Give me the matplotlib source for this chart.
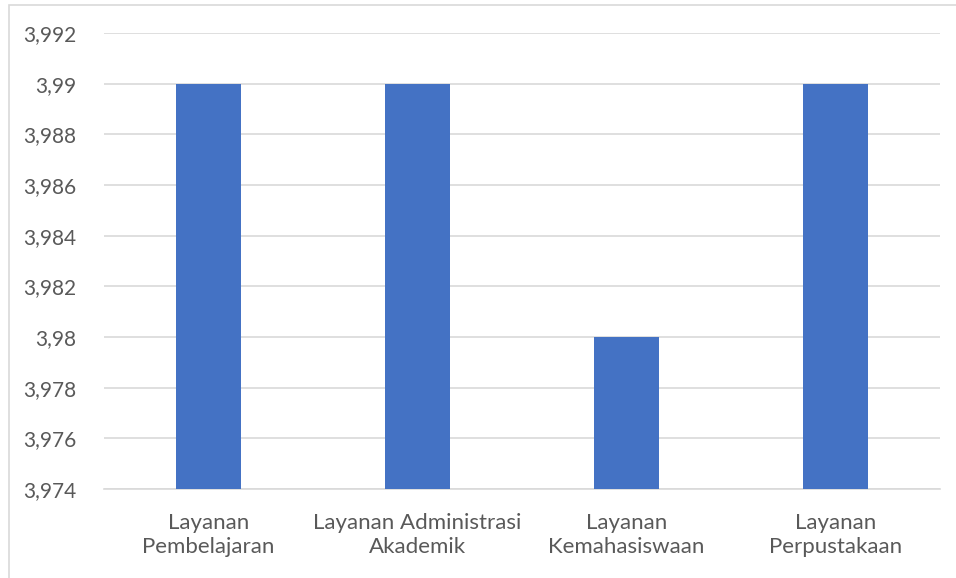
import matplotlib.pyplot as plt
from matplotlib.patches import Rectangle
from matplotlib.ticker import FuncFormatter, MultipleLocator

# data
categories = ['Layanan\nPembelajaran', 'Layanan Administrasi\nAkademik',
              'Layanan\nKemahasiswaan', 'Layanan\nPerpustakaan']
values = [3.99, 3.99, 3.98, 3.99]

plt.rcParams['font.family'] = ['Lato', 'DejaVu Sans']

fig = plt.figure(figsize=(9.56, 5.78), dpi=100)
ax = fig.add_axes([0.1088, 0.154, 0.8745, 0.789])

# chart border like the office chart frame
fig.patches.append(Rectangle((9 / 956, -0.01), 1.0, 1 - 5 / 578 + 0.01,
                             transform=fig.transFigure, fill=False,
                             edgecolor='#D9D9D9', linewidth=1.2))

x = range(len(categories))
ax.bar(x, values, width=0.31, color='#4472C4', zorder=3)

ax.set_ylim(3.974, 3.992)
ax.set_xlim(-0.5, len(categories) - 0.5)
ax.yaxis.set_major_locator(MultipleLocator(0.002))


def fmt(v, pos):
    s = f'{v:.3f}'.rstrip('0').rstrip('.')
    return s.replace('.', ',')


ax.yaxis.set_major_formatter(FuncFormatter(fmt))
ax.grid(axis='y', color='#D9D9D9', linewidth=1.2, zorder=0)

for side in ['top', 'right', 'left']:
    ax.spines[side].set_visible(False)
ax.spines['bottom'].set_color('#D9D9D9')
ax.spines['bottom'].set_linewidth(1.2)

ax.set_xticks(list(x))
ax.set_xticklabels(categories, linespacing=1.3)
ax.tick_params(axis='both', length=0, labelcolor='#595959')
ax.tick_params(axis='y', pad=20, labelsize=15)
ax.tick_params(axis='x', pad=17, labelsize=16)

plt.savefig('out.png', dpi=100)
